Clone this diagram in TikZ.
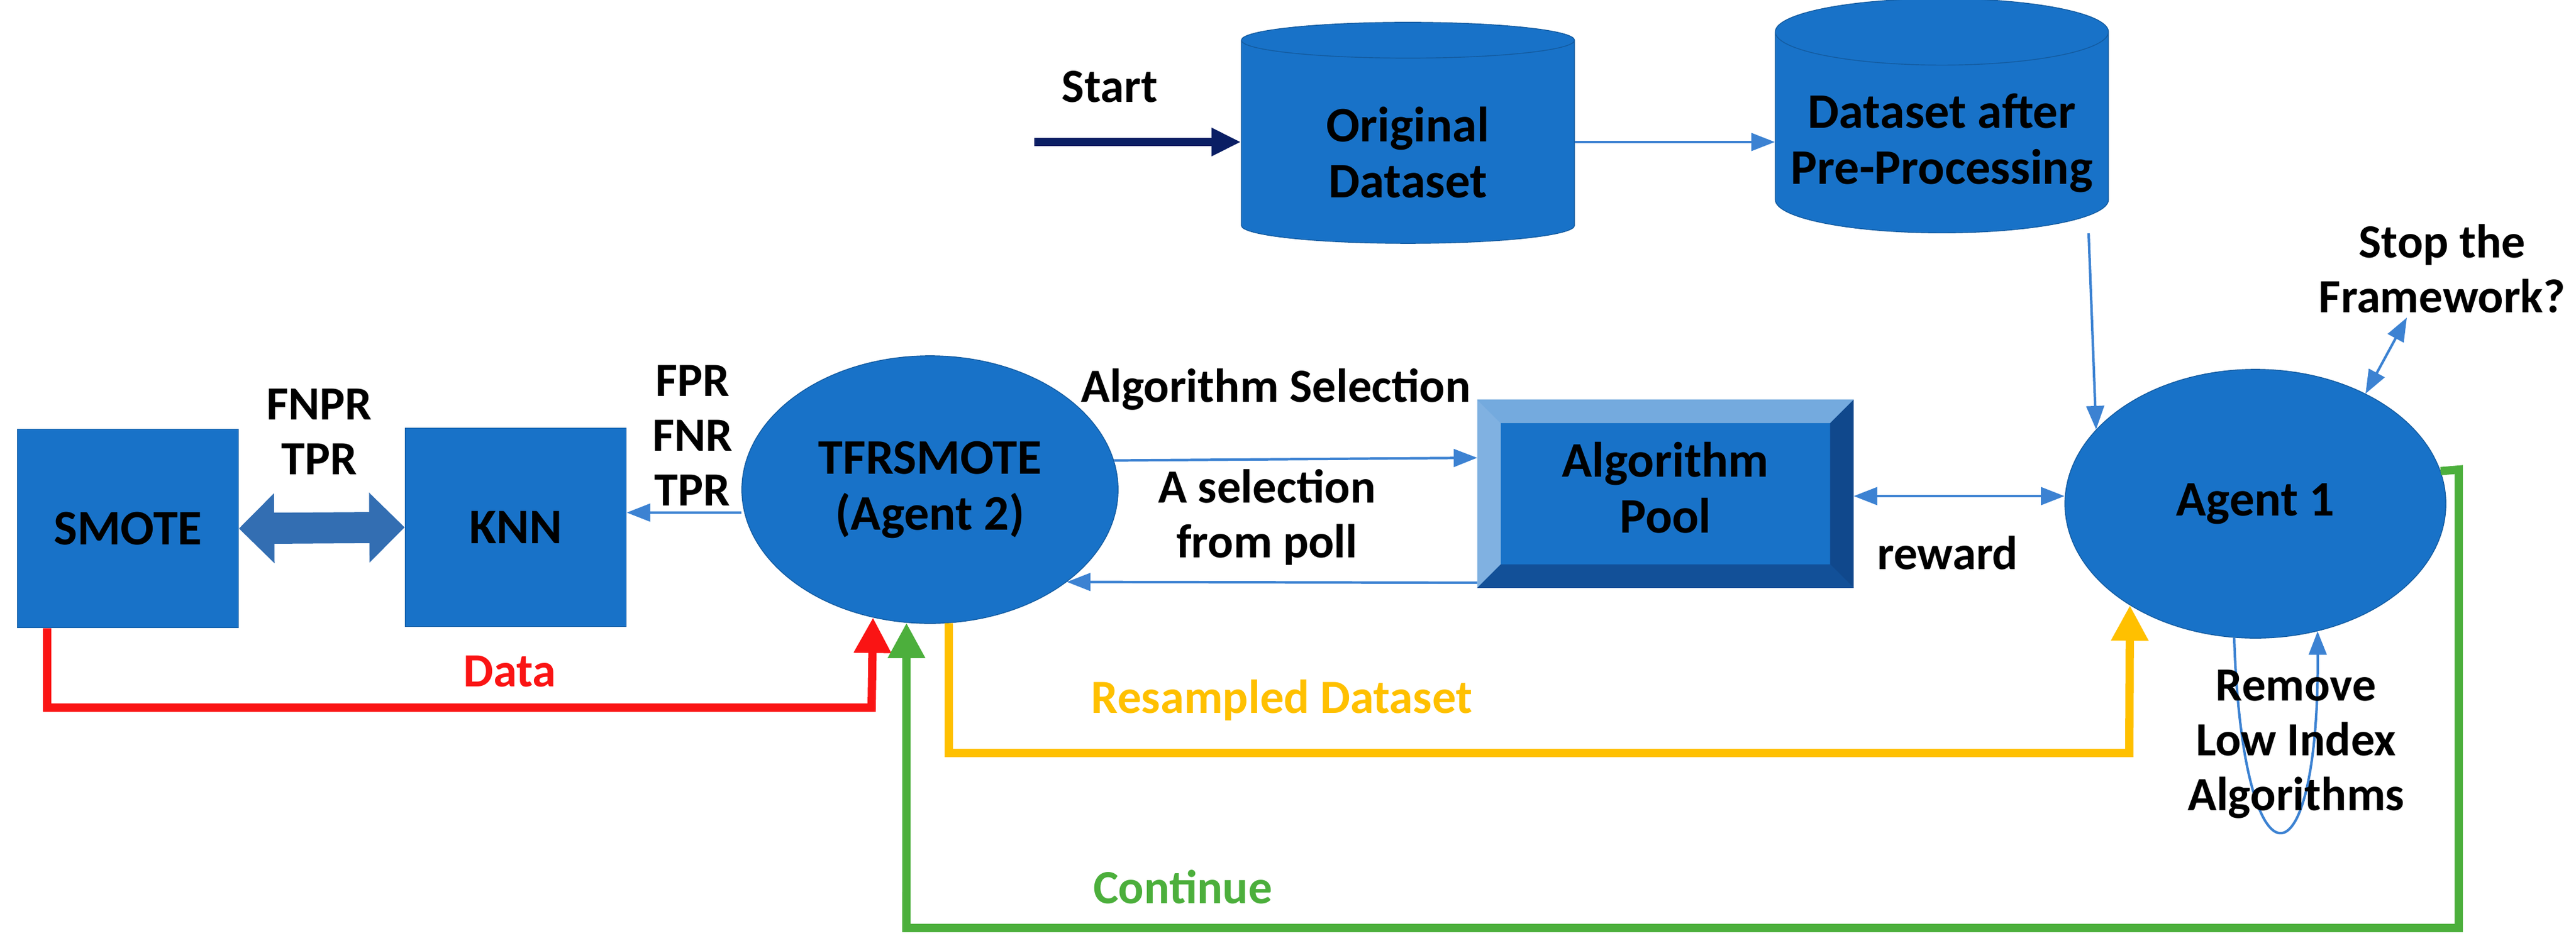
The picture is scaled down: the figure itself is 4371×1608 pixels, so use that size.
\documentclass[tikz,border=0pt]{standalone}
\usepackage{fontspec}
\setmainfont{Carlito}
\usetikzlibrary{arrows.meta,shapes.geometric,positioning}
\definecolor{boxblue}{RGB}{24,114,200}
\definecolor{darkblue}{RGB}{16,72,140}
\definecolor{lineblue}{RGB}{60,130,210}
\definecolor{navyline}{RGB}{10,30,100}
\definecolor{datared}{RGB}{250,20,20}
\definecolor{resyellow}{RGB}{255,192,0}
\definecolor{contgreen}{RGB}{76,175,60}
\begin{document}
\begin{tikzpicture}[
  x=0.01cm, y=-0.01cm,
  block/.style={
    draw=boxblue!80!black,
    fill=boxblue,
    minimum width=3.75cm,
    minimum height=3.37cm,
    align=center,
    font=\fontsize{24}{27}\selectfont\bfseries
  },
  agent/.style={
    ellipse,
    draw=boxblue!80!black,
    fill=boxblue,
    align=center,
    font=\fontsize{24}{27}\selectfont\bfseries
  },
  store/.style={
    cylinder, shape border rotate=90, aspect=0.22,
    draw=boxblue!80!black,
    fill=boxblue,
    inner xsep=0pt,
    minimum width=5.65cm,
    minimum height=3.75cm,
    align=center,
    font=\fontsize{24}{27}\selectfont\bfseries
  },
  tip/.style={-{Triangle[length=4mm,width=3mm]}},
  line/.style={tip, line width=1.2pt, draw=lineblue},
  both/.style={line, {Triangle[length=4mm,width=3mm]}-{Triangle[length=4mm,width=3mm]}},
  fat/.style={line width=4pt, -{Triangle[length=6mm,width=6mm]}},
  annot/.style={font=\fontsize{23}{26.5}\selectfont\bfseries, align=center}
]
\useasboundingbox (0,0) rectangle (4371,1608);

% Blocks
\node[block] (smote) at (217,897) {SMOTE};
\node[block] (knn) at (875,895) {KNN};
\node[agent, minimum width=6.38cm, minimum height=4.54cm] (agent2) at (1578,831) {TFRSMOTE\\(Agent 2)};
\node[block, minimum width=6.37cm, minimum height=3.18cm] (pool) at (2826,838) {};
\node[agent, minimum width=6.46cm, minimum height=4.56cm] (agent1) at (3827,855) {Agent 1};
\node[store] (orig) at (2389,241) {\\Original\\Dataset};
\node[store] (prep) at (3295,225) {\\Dataset after\\Pre-Processing};

% Bevel of the pool
\fill[boxblue!60!white] (pool.north west) -- (pool.north east) -- ([xshift=-0.4cm,yshift=-0.4cm]pool.north east) -- ([xshift=0.4cm,yshift=-0.4cm]pool.north west) -- cycle;
\fill[boxblue!55!white] (pool.north west) -- ([xshift=0.4cm,yshift=-0.4cm]pool.north west) -- ([xshift=0.4cm,yshift=0.4cm]pool.south west) -- (pool.south west) -- cycle;
\fill[darkblue] (pool.north east) -- (pool.south east) -- ([xshift=-0.4cm,yshift=0.4cm]pool.south east) -- ([xshift=-0.4cm,yshift=-0.4cm]pool.north east) -- cycle;
\fill[darkblue!80!boxblue] (pool.south west) -- (pool.south east) -- ([xshift=-0.4cm,yshift=0.4cm]pool.south east) -- ([xshift=0.4cm,yshift=0.4cm]pool.south west) -- cycle;
\node[font=\fontsize{24}{27}\selectfont\bfseries, align=center] at ([yshift=0.1cm]pool) {Algorithm\\Pool};

% Start
\coordinate (start) at (1755,241);
\draw[-{Triangle[length=5mm,width=4.5mm]}, line width=4pt, navyline] (start) -- (orig.west |- start);
\node[annot] at (1883,147) {Start};

% Data flow
\draw[line] (orig.east |- start) -- (prep.west |- start);
\draw[line] (prep.south -| 3544,0) -- (agent1.155.6);
\draw[line] (agent2.west |- 0,870) -- (knn.east |- 0,870);
\draw[line] (agent2.9.9) -- (pool.west |- 0,777);
\draw[line] (pool.west |- 0,989) -- (agent2.-34.6);
\draw[both] (pool.east |- 0,842) -- (agent1.west |- 0,842);
\coordinate (stop) at (4084,539);
\draw[both] (agent1.45.5) -- (stop);
\draw[{Triangle[length=6mm,width=11.5mm]}-{Triangle[length=6mm,width=11.5mm]}, line width=15pt, lineblue!85!black] (smote.east) -- (knn.west);

% Self loop of agent 1
\draw[line] (agent1.-99.7) .. controls (3805,1520) and (3935,1520) .. (agent1.-64.3);

% Labels
\node[annot] at (542,733) {FNPR\\TPR};
\node[annot] at (1175,739) {FPR\\FNR\\TPR};
\node[annot] at (2165,661) {Algorithm Selection};
\node[annot] at (2150,878) {A selection\\from poll};
\node[annot] at (3305,938) {reward};
\node[annot] at (4144,456) {Stop the\\Framework?};
\node[annot] at (3896,1263) {Remove\\Low Index\\Algorithms};

% Coloured returns
\draw[fat, datared] (smote.south -| 80,0) -- (80,1201) -- (1479,1201) -- (agent2.-114.6);
\node[annot, text=datared] at (865,1140) {Data};
\draw[fat, resyellow] (agent2.-82) -- (1610,1278) -- (3613,1278) -- (agent1.-141.4);
\node[annot, text=resyellow] at (2175,1188) {Resampled Dataset};
\draw[fat, contgreen] (agent1.10.5) -- (4172,797) -- (4172,1575) -- (1538,1575) -- (agent2.-100);
\node[annot, text=contgreen] at (2007,1505) {Continue};
\end{tikzpicture}
\end{document}
